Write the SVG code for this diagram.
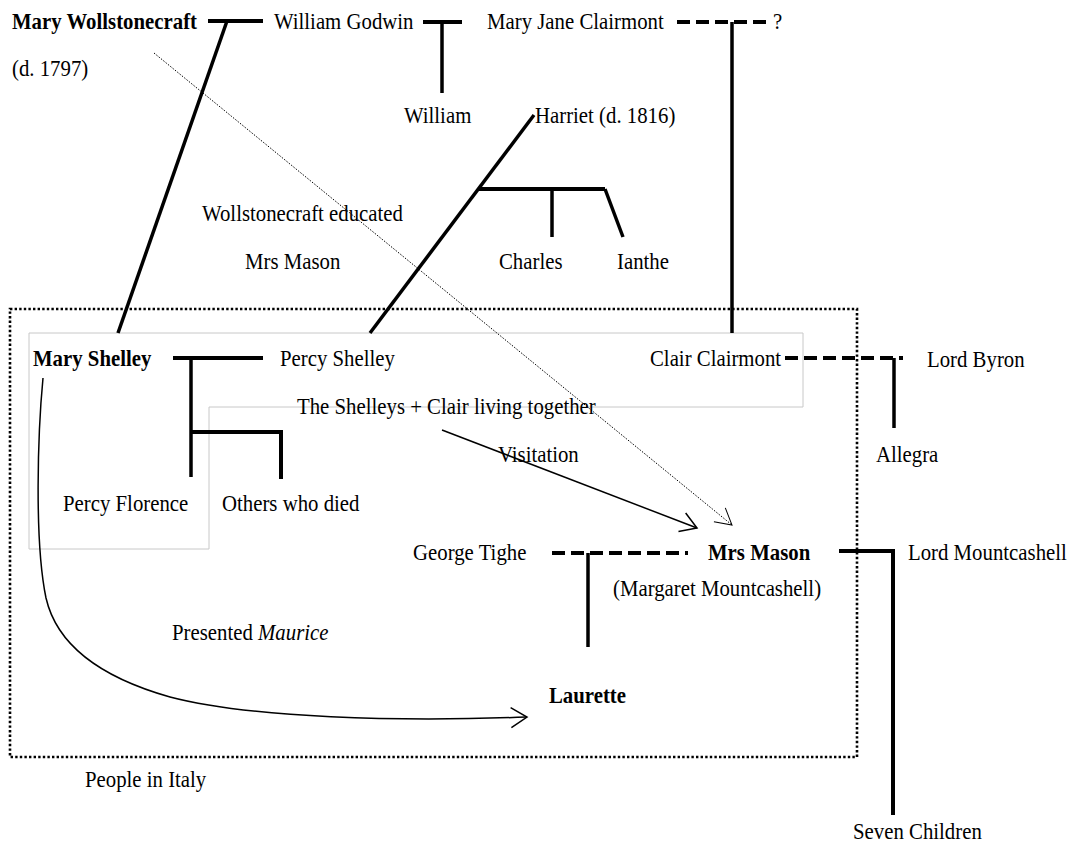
<svg xmlns="http://www.w3.org/2000/svg" width="1076" height="847" viewBox="0 0 1076 847">
<style>
text{font-family:"Liberation Serif","Times New Roman",serif;font-size:20.8px;fill:#000;transform-box:fill-box;transform-origin:0 100%;transform:scaleY(1.12)}
.b{font-weight:bold}
.bar{stroke:#000;stroke-width:4;fill:none}
.stem{stroke:#000;stroke-width:3.5;fill:none}
.dash{stroke:#000;stroke-width:4;stroke-dasharray:13 6;fill:none}
.arrow{stroke:#000;stroke-width:1.5;fill:none}
.dot{stroke:#000;stroke-width:1;stroke-dasharray:1.5 1.5;fill:none}
.region{stroke:#000;stroke-width:2.6;stroke-dasharray:2.4 2.2;fill:none}
.grp{stroke:#c8c8c8;stroke-width:1;fill:none}
</style>
<defs>
<marker id="open" markerUnits="userSpaceOnUse" markerWidth="24" markerHeight="24" refX="20" refY="12" orient="auto" overflow="visible">
<path d="M4,2 L20,12 L4,22" fill="none" stroke="#000" stroke-width="1.5"/>
</marker>
<marker id="openThin" markerUnits="userSpaceOnUse" markerWidth="24" markerHeight="24" refX="20" refY="12" orient="auto" overflow="visible">
<path d="M4,3 L20,12 L4,21" fill="none" stroke="#000" stroke-width="1"/>
</marker>
</defs>

<g id="regions">
<rect id="italy-box" class="region" x="10" y="309" width="847" height="448"/>
<path id="shelley-household" class="grp" d="M29,333 H803 V407 H209 V549 H29 Z"/>
</g>

<g id="connectors">
<path class="bar" d="M208,21 H263"/>
<path class="stem" stroke-width="3" d="M227,21 L118,333"/>
<path class="bar" d="M423,22 H462"/>
<path class="stem" d="M442,22 V93"/>
<path class="dash" d="M677,22 H768"/>
<path class="stem" d="M732,22 V333"/>
<path class="stem" stroke-width="3" d="M534,115 L370,333"/>
<path class="bar" d="M478,189 H605"/>
<path class="stem" d="M552,189 V237"/>
<path class="stem" d="M605,189 L623,237"/>
<path class="bar" d="M173,358 H263"/>
<path class="stem" d="M191,358 V477"/>
<path class="bar" d="M191,432 H281 V479"/>
<path class="dash" d="M785,358 H903"/>
<path class="stem" d="M894,358 V428"/>
<path class="dash" stroke-dasharray="15 7" d="M552,553 H688"/>
<path class="stem" d="M588,553 V647"/>
<path class="bar" d="M839,551 H893 V815"/>
<path class="arrow" marker-end="url(#open)" d="M442,430 L697,528"/>
<path class="dot" marker-end="url(#openThin)" d="M154,53 L732,525"/>
<path class="arrow" marker-end="url(#open)" d="M43,378 C38,430 34,540 46,598 C58,650 110,680 170,697 C250,718 400,722 527,717"/>
</g>

<g id="mary-wollstonecraft"><text class="b" x="12" y="30">Mary Wollstonecraft</text><text x="12" y="77">(d. 1797)</text></g>
<g id="william-godwin"><text x="274" y="30">William Godwin</text></g>
<g id="mary-jane-clairmont"><text x="487" y="30">Mary Jane Clairmont</text></g>
<g id="unknown"><text x="773" y="30">?</text></g>
<g id="william"><text x="404" y="124">William</text></g>
<g id="harriet"><text x="535" y="124">Harriet (d. 1816)</text></g>
<g id="educated-label"><text x="202" y="222">Wollstonecraft educated</text><text x="245" y="270">Mrs Mason</text></g>
<g id="charles"><text x="499" y="270">Charles</text></g>
<g id="ianthe"><text x="617" y="270">Ianthe</text></g>
<g id="mary-shelley"><text class="b" x="33" y="367">Mary Shelley</text></g>
<g id="percy-shelley"><text x="280" y="367">Percy Shelley</text></g>
<g id="clair-clairmont"><text x="650" y="367">Clair Clairmont</text></g>
<g id="lord-byron"><text x="927" y="368">Lord Byron</text></g>
<g id="living-together-label"><text x="297" y="415">The Shelleys + Clair living together</text></g>
<g id="allegra"><text x="876" y="463">Allegra</text></g>
<g id="visitation-label"><text x="498" y="463">Visitation</text></g>
<g id="percy-florence"><text x="63" y="512">Percy Florence</text></g>
<g id="others-who-died"><text x="222" y="512">Others who died</text></g>
<g id="george-tighe"><text x="413" y="561">George Tighe</text></g>
<g id="mrs-mason"><text class="b" x="708" y="561">Mrs Mason</text><text x="613" y="597">(Margaret Mountcashell)</text></g>
<g id="lord-mountcashell"><text x="908" y="561">Lord Mountcashell</text></g>
<g id="presented-label"><text x="172" y="641">Presented <tspan font-style="italic">Maurice</tspan></text></g>
<g id="laurette"><text class="b" x="549" y="704">Laurette</text></g>
<g id="italy-label"><text x="85" y="788">People in Italy</text></g>
<g id="seven-children"><text x="853" y="840">Seven Children</text></g>
</svg>
